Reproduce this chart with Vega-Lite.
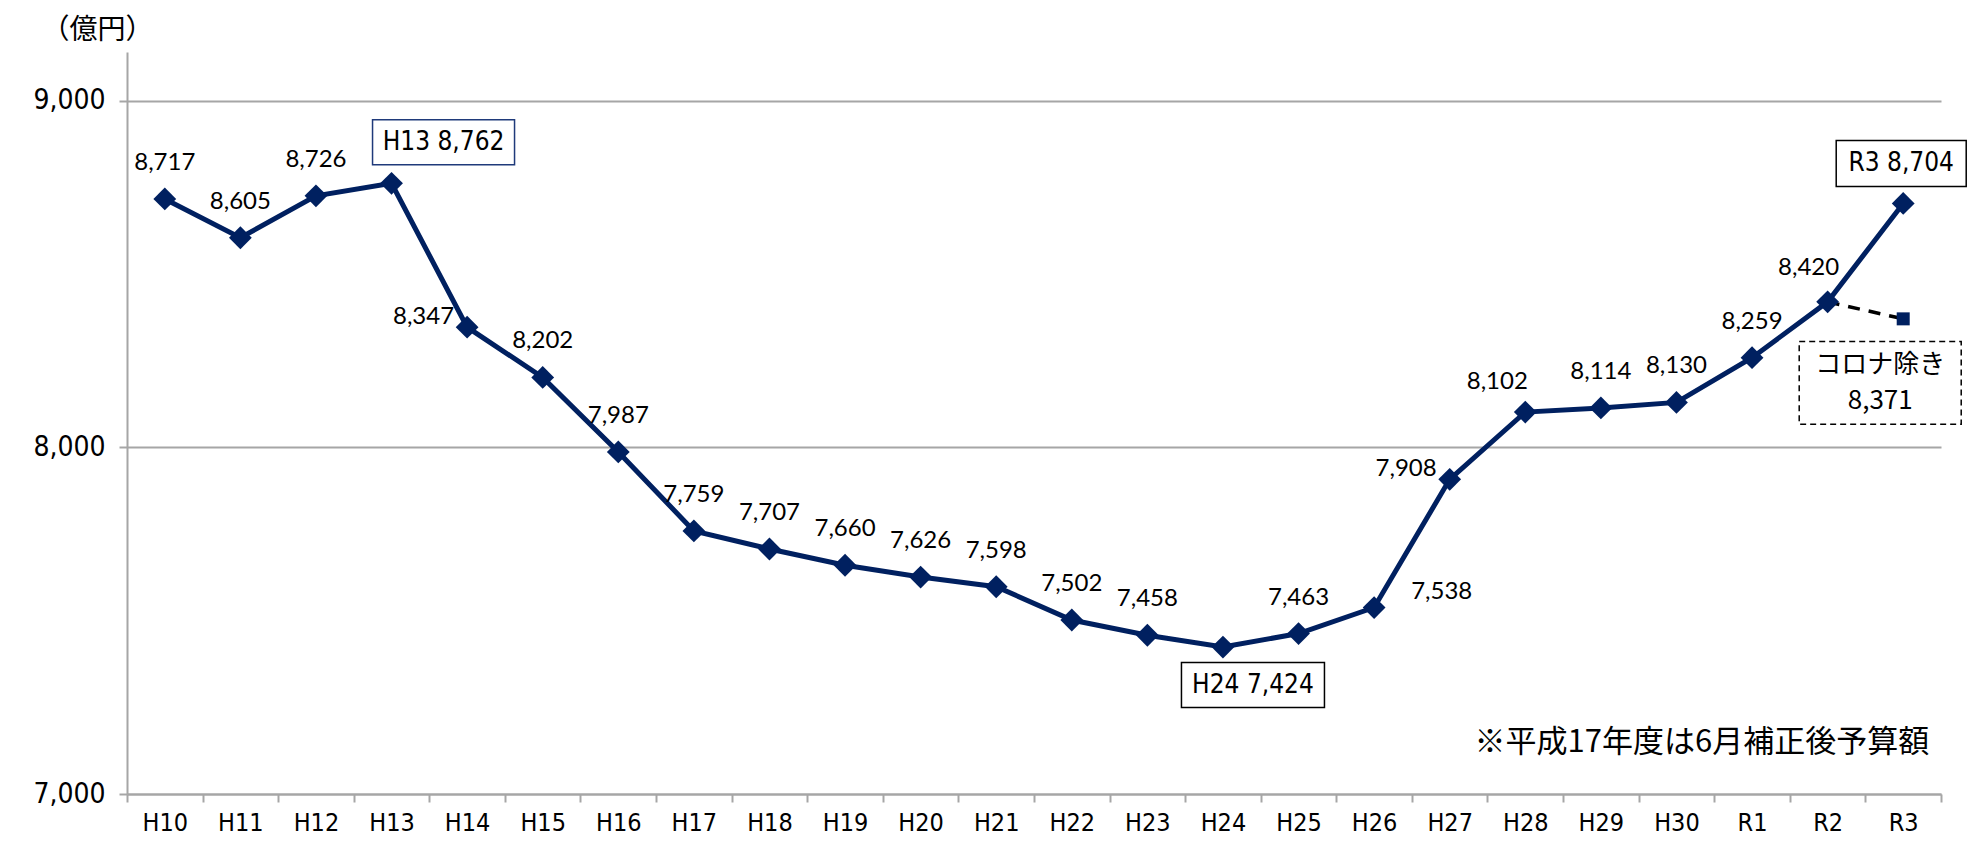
{
  "$schema": "https://vega.github.io/schema/vega-lite/v6.json",
  "width": 1814,
  "height": 742,
  "autosize": {"type": "none"},
  "padding": {"left": 127, "top": 52, "right": 28, "bottom": 48},
  "background": "white",
  "config": {"view": {"stroke": null}, "font": "Noto Sans CJK JP"},
  "datasets": {
    "main": [
      {"year": "H10", "value": 8717},
      {"year": "H11", "value": 8605},
      {"year": "H12", "value": 8726},
      {"year": "H13", "value": 8762},
      {"year": "H14", "value": 8347},
      {"year": "H15", "value": 8202},
      {"year": "H16", "value": 7987},
      {"year": "H17", "value": 7759},
      {"year": "H18", "value": 7707},
      {"year": "H19", "value": 7660},
      {"year": "H20", "value": 7626},
      {"year": "H21", "value": 7598},
      {"year": "H22", "value": 7502},
      {"year": "H23", "value": 7458},
      {"year": "H24", "value": 7424},
      {"year": "H25", "value": 7463},
      {"year": "H26", "value": 7538},
      {"year": "H27", "value": 7908},
      {"year": "H28", "value": 8102},
      {"year": "H29", "value": 8114},
      {"year": "H30", "value": 8130},
      {"year": "R1", "value": 8259},
      {"year": "R2", "value": 8420},
      {"year": "R3", "value": 8704}
    ],
    "covid": [
      {"year": "R2", "value": 8420},
      {"year": "R3", "value": 8371}
    ]
  },
  "data": {"name": "main"},
  "encoding": {
    "x": {
      "field": "year",
      "type": "ordinal",
      "scale": {
        "type": "band",
        "paddingInner": 0,
        "paddingOuter": 0,
        "domain": ["H10","H11","H12","H13","H14","H15","H16","H17","H18","H19","H20","H21","H22","H23","H24","H25","H26","H27","H28","H29","H30","R1","R2","R3"]
      },
      "axis": {
        "title": null,
        "labelAngle": 0,
        "tickBand": "extent",
        "domainColor": "#a6a6a6",
        "domainWidth": 2,
        "tickColor": "#a6a6a6",
        "tickWidth": 2,
        "tickSize": 8,
        "labelFont": "DejaVu Sans Condensed, Liberation Sans",
        "labelFontSize": 25,
        "labelColor": "black",
        "labelPadding": 8
      }
    },
    "y": {
      "field": "value",
      "type": "quantitative",
      "scale": {"domain": [7000, 9141], "nice": false, "zero": false},
      "axis": {
        "values": [7000, 8000, 9000],
        "format": ",.0f",
        "grid": true,
        "gridColor": "#a6a6a6",
        "gridWidth": 2,
        "domainColor": "#a6a6a6",
        "domainWidth": 2,
        "tickColor": "#a6a6a6",
        "tickWidth": 2,
        "tickSize": 8,
        "labelFont": "DejaVu Sans Condensed, Liberation Sans",
        "labelFontSize": 28,
        "labelColor": "black",
        "labelPadding": 14,
        "title": "（億円）",
        "titleAngle": 0,
        "titleAlign": "left",
        "titleBaseline": "middle",
        "titleX": -86,
        "titleY": -22,
        "titleFont": "Noto Sans CJK JP",
        "titleFontSize": 28,
        "titleFontWeight": "normal",
        "titleColor": "black"
      }
    }
  },
  "layer": [
    {"mark": {"type": "line", "color": "#002060", "strokeWidth": 5}},
    {
      "data": {"name": "covid"},
      "mark": {"type": "line", "color": "black", "strokeWidth": 3.5, "strokeDash": [12, 9]}
    },
    {"mark": {"type": "point", "shape": "diamond", "size": 520, "filled": true, "color": "#002060", "opacity": 1}},
    {
      "data": {"name": "covid"},
      "transform": [{"filter": "datum.year === 'R3'"}],
      "mark": {"type": "point", "shape": "square", "size": 169, "filled": true, "color": "#002060", "opacity": 1}
    },
    {
      "transform": [{"filter": "indexof(['H13','H14','H24','H26','H27','H28','R2','R3'], datum.year) < 0"}],
      "mark": {"type": "text", "font": "Lato", "fontSize": 24, "dy": -36, "baseline": "middle", "color": "black"},
      "encoding": {"text": {"field": "value", "type": "quantitative", "format": ","}}
    },
    {
      "transform": [{"filter": "datum.year === 'H14' || datum.year === 'H27'"}],
      "mark": {"type": "text", "font": "Lato", "fontSize": 24, "dx": -13, "dy": -10, "align": "right", "baseline": "middle", "color": "black"},
      "encoding": {"text": {"field": "value", "type": "quantitative", "format": ","}}
    },
    {
      "transform": [{"filter": "datum.year === 'H26'"}],
      "mark": {"type": "text", "font": "Lato", "fontSize": 24, "dx": 37, "dy": -16, "align": "left", "baseline": "middle", "color": "black"},
      "encoding": {"text": {"field": "value", "type": "quantitative", "format": ","}}
    },
    {
      "transform": [{"filter": "datum.year === 'H28'"}],
      "mark": {"type": "text", "font": "Lato", "fontSize": 24, "dx": -28, "dy": -30, "baseline": "middle", "color": "black"},
      "encoding": {"text": {"field": "value", "type": "quantitative", "format": ","}}
    },
    {
      "transform": [{"filter": "datum.year === 'R2'"}],
      "mark": {"type": "text", "font": "Lato", "fontSize": 24, "dx": -19, "dy": -34, "baseline": "middle", "color": "black"},
      "encoding": {"text": {"field": "value", "type": "quantitative", "format": ","}}
    },
    {
      "transform": [{"filter": "datum.year === 'H13'"}],
      "mark": {"type": "point", "shape": "M-1,-0.317H1V0.317H-1Z", "size": 20164, "filled": true, "fill": "white", "stroke": "#1f3a7a", "strokeWidth": 1.5, "opacity": 1, "xOffset": 52, "yOffset": -41}
    },
    {
      "transform": [{"filter": "datum.year === 'H24'"}],
      "mark": {"type": "point", "shape": "M-1,-0.315H1V0.315H-1Z", "size": 20449, "filled": true, "fill": "white", "stroke": "black", "strokeWidth": 1.5, "opacity": 1, "xOffset": 30, "yOffset": 38}
    },
    {
      "transform": [{"filter": "datum.year === 'R3'"}],
      "mark": {"type": "point", "shape": "M-1,-0.354H1V0.354H-1Z", "size": 16900, "filled": true, "fill": "white", "stroke": "black", "strokeWidth": 1.5, "opacity": 1, "xOffset": -2, "yOffset": -40}
    },
    {
      "transform": [
        {"filter": "datum.year === 'H13'"},
        {"calculate": "datum.year + ' ' + format(datum.value, ',')", "as": "label"}
      ],
      "mark": {"type": "text", "font": "DejaVu Sans Condensed, Noto Sans CJK JP", "fontSize": 26, "dx": 52, "dy": -41, "baseline": "middle", "color": "black"},
      "encoding": {"text": {"field": "label"}}
    },
    {
      "transform": [
        {"filter": "datum.year === 'H24'"},
        {"calculate": "datum.year + ' ' + format(datum.value, ',')", "as": "label"}
      ],
      "mark": {"type": "text", "font": "DejaVu Sans Condensed, Noto Sans CJK JP", "fontSize": 26, "dx": 30, "dy": 38, "baseline": "middle", "color": "black"},
      "encoding": {"text": {"field": "label"}}
    },
    {
      "transform": [
        {"filter": "datum.year === 'R3'"},
        {"calculate": "datum.year + ' ' + format(datum.value, ',')", "as": "label"}
      ],
      "mark": {"type": "text", "font": "DejaVu Sans Condensed, Noto Sans CJK JP", "fontSize": 26, "dx": -2, "dy": -40, "baseline": "middle", "color": "black"},
      "encoding": {"text": {"field": "label"}}
    },
    {
      "data": {"name": "covid"},
      "transform": [{"filter": "datum.year === 'R3'"}],
      "mark": {"type": "point", "shape": "M-1,-0.512H1V0.512H-1Z", "size": 26244, "filled": true, "fill": "white", "stroke": "black", "strokeWidth": 1.5, "strokeDash": [6, 4], "opacity": 1, "xOffset": -23, "yOffset": 64}
    },
    {
      "data": {"name": "covid"},
      "transform": [
        {"filter": "datum.year === 'R3'"},
        {"calculate": "['コロナ除き', format(datum.value, ',')]", "as": "label"}
      ],
      "mark": {"type": "text", "font": "Noto Sans CJK JP", "fontSize": 26, "fontWeight": "normal", "lineHeight": 36, "dx": -23, "dy": 46, "baseline": "middle", "color": "black"},
      "encoding": {"text": {"field": "label"}}
    },
    {
      "data": {"name": "covid"},
      "transform": [{"filter": "datum.year === 'R3'"}],
      "mark": {"type": "text", "font": "Noto Sans CJK JP", "fontSize": 31, "fontWeight": "normal", "align": "right", "baseline": "middle", "dx": 26, "color": "black", "text": "※平成17年度は6月補正後予算額"},
      "encoding": {"y": {"datum": 7147}}
    }
  ]
}
